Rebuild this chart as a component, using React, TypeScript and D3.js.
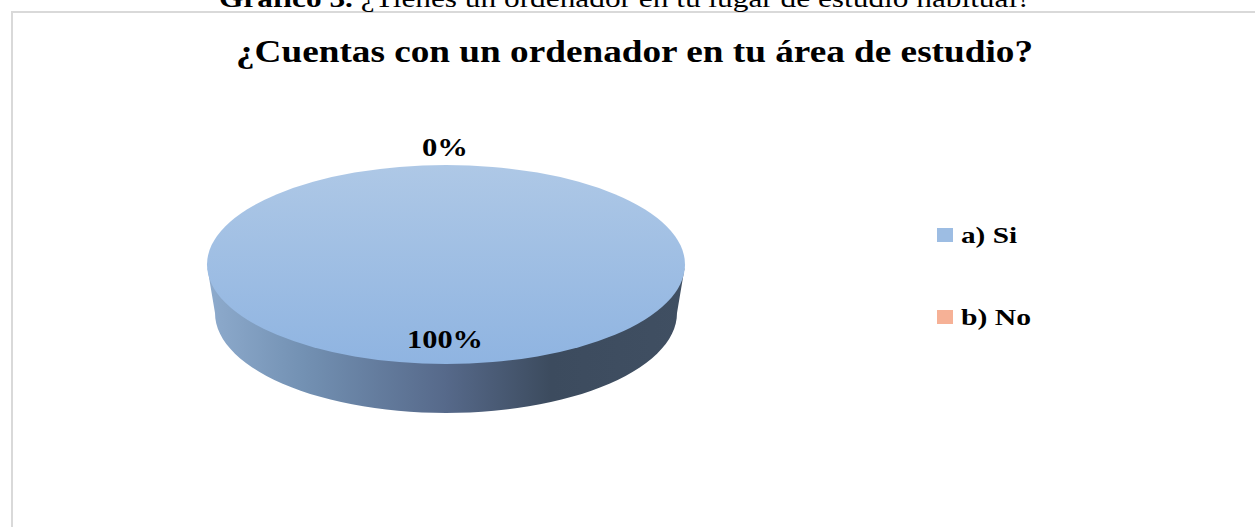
import React from "react";
import * as d3 from "d3";

const categories = ["a) Si", "b) No"];
const values = [100, 0];
const valueLabels = ["100%", "0%"];
const heading = "¿Tienes un ordenador en tu lugar de estudio habitual?";
const headingBold = "Gráfico 3.";
const title = "¿Cuentas con un ordenador en tu área de estudio?";
const colors = ["url(#topGrad)", "#f4b08f"];
const legendColors = ["#9dbde3", "#f6b196"];

const cx = 446, cy = 264.5, rx = 239, ry = 99.5;
const bottomCy = 313, bottomRx = 231, bottomRy = 100;

const serif = "'Liberation Serif', serif";

export default function App() {
  const pie = d3.pie<number>().sort(null).startAngle(0).endAngle(2 * Math.PI);
  const arcs = pie(values);
  const arc = d3.arc<d3.PieArcDatum<number>>().innerRadius(0).outerRadius(1);
  const pathRound = d3.path();
  pathRound.moveTo(cx - rx + 0.5, cy + 4);
  pathRound.lineTo(cx - bottomRx, bottomCy);
  const steps = d3.range(0, 181, 3).map((d) => (d * Math.PI) / 180);
  steps.forEach((t) =>
    pathRound.lineTo(cx - bottomRx * Math.cos(t), bottomCy + bottomRy * Math.sin(t))
  );
  pathRound.lineTo(cx + rx - 0.5, cy + 4);
  pathRound.closePath();

  const legendY = d3.scalePoint<string>().domain(categories).range([235, 317]);

  return (
    <svg
      width={1255}
      height={527}
      style={{ position: "absolute", left: 0, top: 0, background: "#fff" }}
    >
      <defs>
        <linearGradient id="topGrad" x1="0" y1="0" x2="0" y2="1">
          <stop offset="0" stopColor="#aec8e6" />
          <stop offset="1" stopColor="#8fb4e1" />
        </linearGradient>
        <linearGradient id="sideGrad" gradientUnits="userSpaceOnUse" x1={cx - rx} y1="0" x2={cx + rx} y2="0">
          <stop offset="0" stopColor="#8eabcd" />
          <stop offset="0.2" stopColor="#7391b3" />
          <stop offset="0.5" stopColor="#56698a" />
          <stop offset="0.72" stopColor="#3c4b5e" />
          <stop offset="1" stopColor="#404f62" />
        </linearGradient>
      </defs>

      <rect x={12} y={12} width={1260} height={530} fill="#fff" stroke="#d9d9d9" strokeWidth={2} />

      <text x={219} y={7} fontFamily={serif} fontSize={25} textLength={812} lengthAdjust="spacingAndGlyphs" fill="#000">
        <tspan fontWeight="bold">{headingBold} </tspan>
        <tspan>{heading}</tspan>
      </text>

      <text x={236} y={62} fontFamily={serif} fontSize={31} fontWeight="bold" textLength={797} lengthAdjust="spacingAndGlyphs" fill="#000">
        {title}
      </text>

      <path d={pathRound.toString()} fill="url(#sideGrad)" />
      <g transform={`translate(${cx},${cy}) scale(${rx},${ry})`}>
        {arcs.map((a, i) =>
          a.value > 0 ? <path key={categories[i]} d={arc(a) ?? ""} fill={colors[i]} /> : null
        )}
      </g>

      <text x={445} y={348} textAnchor="middle" fontFamily={serif} fontSize={25} fontWeight="bold" textLength={76} lengthAdjust="spacingAndGlyphs">
        {valueLabels[0]}
      </text>
      <text x={445} y={156} textAnchor="middle" fontFamily={serif} fontSize={25} fontWeight="bold" textLength={46} lengthAdjust="spacingAndGlyphs">
        {valueLabels[1]}
      </text>

      {categories.map((c, i) => (
        <g key={c} transform={`translate(937,${legendY(c)})`}>
          <rect x={0} y={-7} width={16} height={14} fill={legendColors[i]} />
          <text x={24} y={8} fontFamily={serif} fontSize={24} fontWeight="bold" textLength={i === 0 ? 56 : 70} lengthAdjust="spacingAndGlyphs">
            {c}
          </text>
        </g>
      ))}
    </svg>
  );
}
